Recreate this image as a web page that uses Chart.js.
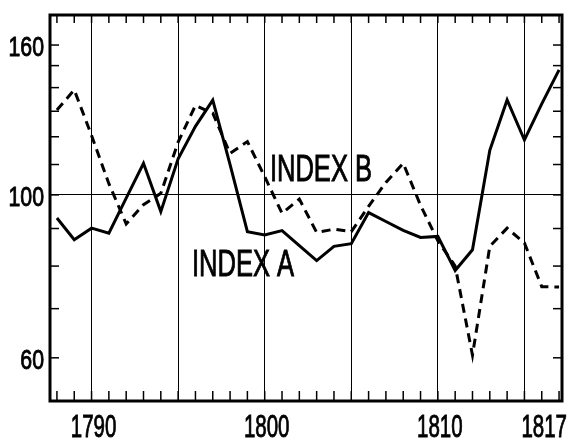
<!DOCTYPE html>
<html><head><meta charset="utf-8">
<script src="https://cdn.jsdelivr.net/npm/chart.js@4/dist/chart.umd.min.js"></script>
<style>html,body{margin:0;padding:0;background:#fff}#wrap{width:574px;height:440px}</style>
</head><body><div id="wrap"><canvas id="c" width="574" height="440"></canvas></div>
<script>
const years = [1788,1789,1790,1791,1792,1793,1794,1795,1796,1797,1798,1799,1800,1801,1802,1803,1804,1805,1806,1807,1808,1809,1810,1811,1812,1813,1814,1815,1816,1817];
const indexA = [93,86.9,90.1,88.7,99,110.4,94.9,112,124,134.6,110,89.1,88.2,89.4,85.3,81.4,85.1,85.8,94.6,92,89.5,87.5,87.8,78.9,84.2,115,134.7,118.8,133,148];
const indexB = [130.5,139,120.5,103.6,91.3,97,100.5,118,132.4,129.2,113.9,118.2,105.9,94.4,98.7,88.9,89.8,89.1,96.5,104,110.4,96.8,86.6,80,60.5,85.1,90.1,86,75,74.9];
const xTickLabels = [1790,1800,1810,1817];
const xGridYears = [1790,1795,1800,1805,1810,1815];
const yTickValues = [60,70,80,90,100,110,120,130,140,150,160];
const yTickLabels = [60,100,160];
const yGridValues = [100];
const seriesNames = ['INDEX A','INDEX B'];
const nameAnchors = [[1795.8,77.5],[1800.3,104.3]];

const FONT = "'Liberation Sans',Arial,sans-serif";

function narrowText(ctx,text,x,y,sx,align){
  const w=ctx.measureText(text).width*sx;
  let x0=x;
  if(align==='center') x0=x-w/2;
  else if(align==='right') x0=x-w;
  ctx.save();
  ctx.translate(x0,y);
  ctx.scale(sx,1);
  ctx.fillText(text,0,0);
  ctx.lineWidth=0.9;
  ctx.strokeText(text,0,0);
  ctx.restore();
  return w;
}

const framePlugin = {
  id:'frame',
  afterDatasetsDraw(chart){
    const {ctx, chartArea:a, scales:{x,y}} = chart;
    ctx.save();
    ctx.strokeStyle='#000';
    ctx.lineWidth=1.5;
    years.forEach(v=>{
      const px=x.getPixelForValue(v);
      ctx.beginPath();ctx.moveTo(px,a.bottom);ctx.lineTo(px,a.bottom-10);ctx.stroke();
      ctx.beginPath();ctx.moveTo(px,a.top);ctx.lineTo(px,a.top+8);ctx.stroke();
    });
    yTickValues.forEach(v=>{
      const py=y.getPixelForValue(v);
      ctx.beginPath();ctx.moveTo(a.left,py);ctx.lineTo(a.left+9,py);ctx.stroke();
      ctx.beginPath();ctx.moveTo(a.right,py);ctx.lineTo(a.right-9,py);ctx.stroke();
    });
    ctx.lineWidth=3;
    ctx.strokeRect(a.left,a.top,a.right-a.left,a.bottom-a.top);
    ctx.fillStyle='#000';
    ctx.textBaseline='alphabetic';
    ctx.textAlign='left';
    // y tick labels
    ctx.font="28px "+FONT;
    y.ticks.forEach(t=>{
      if(!yTickLabels.includes(t.value)) return;
      const py=y.getPixelForValue(t.value);
      narrowText(ctx,String(t.value),a.left-6,py+11,0.76,'right');
    });
    // x tick labels
    ctx.font="31px "+FONT;
    x.ticks.forEach(t=>{
      if(!xTickLabels.includes(t.value)) return;
      const px=x.getPixelForValue(t.value);
      const w=ctx.measureText(String(t.value)).width*0.66;
      let cx=px;
      if(cx+w/2>chart.width-9) cx=chart.width-9-w/2;
      narrowText(ctx,String(t.value),cx+2,a.bottom+36,0.66,'center');
    });
    // series name labels
    ctx.font="37px "+FONT;
    seriesNames.forEach((t,i)=>{
      const px=x.getPixelForValue(nameAnchors[i][0]);
      const py=y.getPixelForValue(nameAnchors[i][1]);
      narrowText(ctx,t,px,py,0.69,'left');
    });
    ctx.restore();
  }
};

new Chart(document.getElementById('c'),{
  type:'line',
  data:{datasets:[
    {label:seriesNames[0],data:years.map((v,i)=>({x:v,y:indexA[i]})),borderColor:'#000',borderWidth:3,pointRadius:0,tension:0,fill:false},
    {label:seriesNames[1],data:years.map((v,i)=>({x:v,y:indexB[i]})),borderColor:'#000',borderWidth:3,borderDash:[9,6],pointRadius:0,tension:0,fill:false}
  ]},
  options:{
    responsive:false,animation:false,devicePixelRatio:1,
    layout:{padding:{top:15,right:12,left:0,bottom:0}},
    plugins:{legend:{display:false},tooltip:{enabled:false}},
    scales:{
      x:{type:'linear',min:1787.6,max:1817.17,
        afterBuildTicks:s=>{s.ticks=years.map(v=>({value:v}));},
        afterFit:s=>{s.height=39;},
        ticks:{display:false,autoSkip:false,maxRotation:0},
        grid:{drawTicks:false,lineWidth:1,color:c=>(c.tick&&xGridYears.includes(c.tick.value))?'#000':'rgba(0,0,0,0)'},
        border:{display:false}
      },
      y:{type:'logarithmic',min:52.4,max:175.8,
        afterBuildTicks:s=>{s.ticks=yTickValues.map(v=>({value:v}));},
        afterFit:s=>{s.width=50;},
        ticks:{display:false,autoSkip:false},
        grid:{drawTicks:false,lineWidth:1,color:c=>(c.tick&&yGridValues.includes(c.tick.value))?'#000':'rgba(0,0,0,0)'},
        border:{display:false}
      }
    }
  },
  plugins:[framePlugin]
});
</script></body></html>
